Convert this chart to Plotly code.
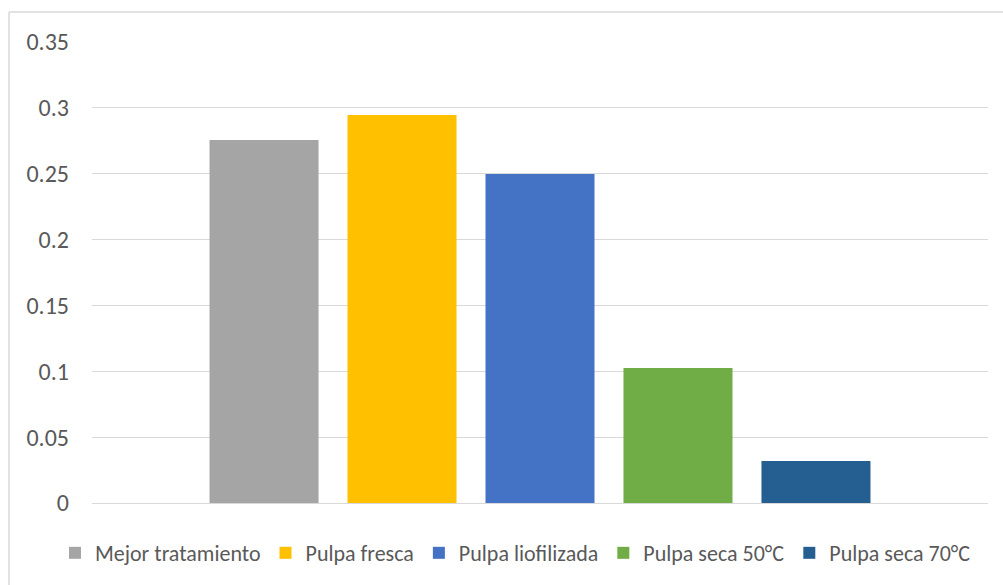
import plotly.graph_objects as go

# Single category, one bar per treatment
category = [""]
series_names = ["Mejor tratamiento", "Pulpa fresca", "Pulpa liofilizada",
                "Pulpa seca 50°C", "Pulpa seca 70°C"]
series_values = [0.2756, 0.2946, 0.2498, 0.1025, 0.0319]
series_colors = ["#A5A5A5", "#FFC000", "#4472C4", "#70AD47", "#255E91"]
y_ticks = [0, 0.05, 0.1, 0.15, 0.2, 0.25, 0.3, 0.35]
y_tick_text = ["0", "0.05", "0.1", "0.15", "0.2", "0.25", "0.3", "0.35"]

FONT = "Calibri, Carlito, Lato, sans-serif"
TEXT_COLOR = "#595959"
GRID = "#D9D9D9"

fig = go.Figure()
for name, val, col in zip(series_names, series_values, series_colors):
    fig.add_trace(go.Bar(x=category, y=[val], name=name,
                         marker=dict(color=col, line=dict(width=0))))

fig.update_layout(
    width=1003, height=585,
    margin=dict(l=92, r=15, t=42, b=82, autoexpand=False),
    paper_bgcolor="white", plot_bgcolor="white",
    barmode="group", bargap=0.23, bargroupgap=0.21,
    font=dict(family=FONT, size=22, color=TEXT_COLOR),
    showlegend=True,
    legend=dict(orientation="h", x=-0.0413, xanchor="left",
                y=-0.1085, yanchor="middle",
                font=dict(family=FONT, size=22, color=TEXT_COLOR),
                itemwidth=30, traceorder="normal"),
    xaxis=dict(showticklabels=False, showgrid=False, zeroline=False,
               showline=False, ticks=""),
    yaxis=dict(range=[0, 0.35], tickvals=y_ticks, ticktext=y_tick_text,
               showgrid=True, gridcolor=GRID, gridwidth=1,
               zeroline=True, zerolinecolor=GRID, zerolinewidth=1,
               showline=False, ticks="", ticklabelstandoff=22,
               tickfont=dict(family=FONT, size=24, color=TEXT_COLOR)),
)

# Chart-area frame (left and top edges visible)
fig.add_shape(type="line", xref="paper", yref="paper",
              x0=-0.0926, x1=1.02, y0=1.065, y1=1.065,
              line=dict(color=GRID, width=1.5))
fig.add_shape(type="line", xref="paper", yref="paper",
              x0=-0.0926, x1=-0.0926, y0=1.065, y1=-0.2,
              line=dict(color=GRID, width=1.5))

fig.write_html("out.html")
